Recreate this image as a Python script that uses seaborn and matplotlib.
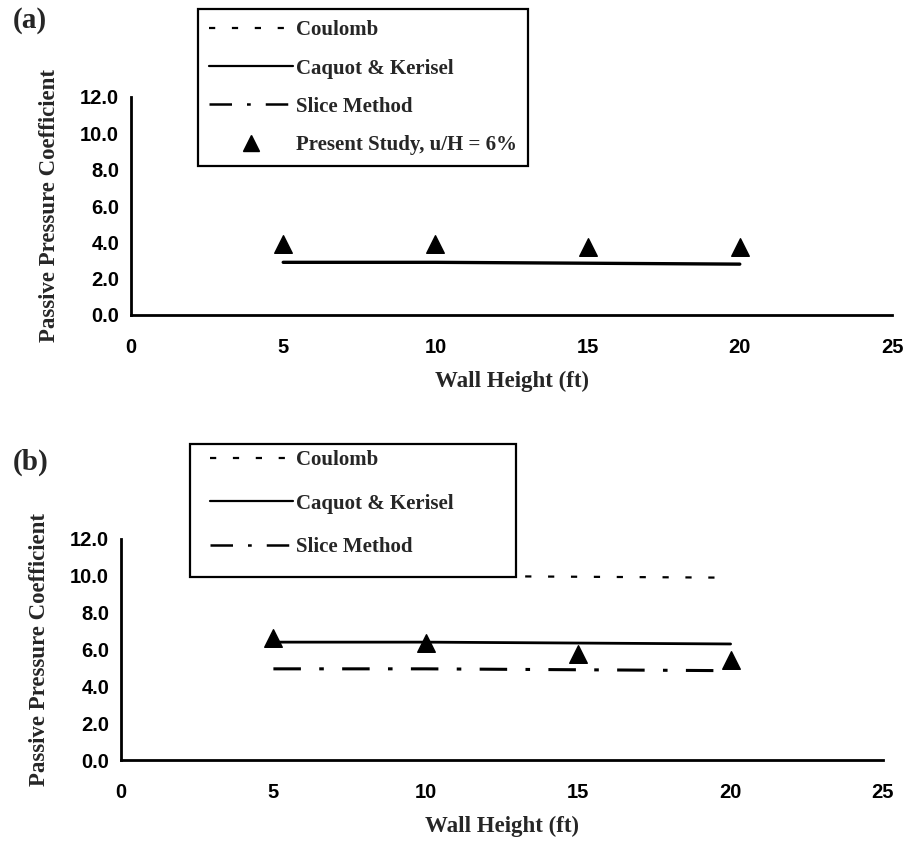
import matplotlib
matplotlib.use("Agg")
import matplotlib.pyplot as plt
from matplotlib.lines import Line2D
from matplotlib.patches import Rectangle
import seaborn as sns
import pandas as pd

# data
heights = [5, 10, 15, 20]
a_caquot = [2.9, 2.9, 2.85, 2.8]
a_present = [3.9, 3.9, 3.75, 3.75]
b_coulomb = [10.0, 10.0, 9.95, 9.9]
b_caquot = [6.4, 6.4, 6.35, 6.3]
b_slice = [4.95, 4.95, 4.9, 4.85]
b_present = [6.65, 6.35, 5.78, 5.42]

x_ticks = [0, 5, 10, 15, 20, 25]
y_ticks = [0, 2, 4, 6, 8, 10, 12]
legend_labels = ['Coulomb', 'Caquot & Kerisel', 'Slice Method', 'Present Study, u/H = 6%']

sns.set_style("white")
plt.rcParams['font.family'] = ['Liberation Serif', 'DejaVu Serif']

SERIF = 'Liberation Serif'
SANS = 'Liberation Sans'
DOT = (0, (2.8, 7.5))
DASHDOT = (0, (9, 6, 1.5, 6))
W, H = 908, 848


def style_axes(ax):
    ax.set_xlim(0, 25)
    ax.set_ylim(0, 12)
    ax.set_xticks(x_ticks)
    ax.set_yticks(y_ticks)
    ax.set_yticklabels([f"{v:.1f}" for v in y_ticks])
    for s in ['top', 'right']:
        ax.spines[s].set_visible(False)
    for s in ['left', 'bottom']:
        ax.spines[s].set_linewidth(2)
        ax.spines[s].set_color('black')
    ax.tick_params(axis='both', direction='inout', length=11, width=1.6, colors='black')
    ax.tick_params(axis='y', pad=3)
    ax.tick_params(axis='x', pad=11)
    for lab in ax.get_xticklabels() + ax.get_yticklabels():
        lab.set_fontfamily(SANS)
        lab.set_fontweight('bold')
        lab.set_fontsize(14.5)
    ax.set_xlabel('Wall Height (ft)', fontsize=16.5, fontweight='bold', fontfamily=SERIF)
    ax.set_ylabel('Passive Pressure Coefficient', fontsize=16.5, fontweight='bold', fontfamily=SERIF)


def legend_handles():
    return [
        Line2D([], [], color='black', linestyle=DOT, linewidth=1.6),
        Line2D([], [], color='black', linestyle='-', linewidth=1.6),
        Line2D([], [], color='black', linestyle=DASHDOT, linewidth=1.8),
        Line2D([], [], color='black', linestyle='none', marker='^', markersize=11),
    ]


fig = plt.figure(figsize=(W / 100, H / 100), dpi=100)

# ---- panel (a)
ax_a = fig.add_axes([131 / W, 1 - 315 / H, 761 / W, 218 / H])
df_a = pd.DataFrame({'h': heights, 'caquot': a_caquot, 'present': a_present})
sns.lineplot(data=df_a, x='h', y='caquot', ax=ax_a, color='black', linewidth=2.4)
sns.scatterplot(data=df_a, x='h', y='present', ax=ax_a, color='black', marker='^', s=160, edgecolor='black')
style_axes(ax_a)
ax_a.xaxis.set_label_coords(0.5, -0.257)
ax_a.yaxis.set_label_coords(-0.093, 0.5)

leg_a = ax_a.legend(legend_handles(), legend_labels, loc='upper left',
                    bbox_to_anchor=(198 / W, 1 - 9 / H), bbox_transform=fig.transFigure,
                    frameon=True, fancybox=False, edgecolor='black', framealpha=1,
                    prop={'family': SERIF, 'weight': 'bold', 'size': 15},
                    handlelength=4.0, handletextpad=0.15, labelspacing=0.87,
                    borderpad=0.55, borderaxespad=0)
leg_a.get_frame().set_linewidth(1.6)

fig.text(13 / W, 1 - 20 / H, '(a)', fontsize=21, fontweight='bold', fontfamily=SERIF,
         ha='left', va='center')

# ---- panel (b)
ax_b = fig.add_axes([121 / W, 1 - 760 / H, 762 / W, 221 / H])
df_b = pd.DataFrame({'h': heights, 'coulomb': b_coulomb, 'caquot': b_caquot,
                     'slice': b_slice, 'present': b_present})
sns.lineplot(data=df_b, x='h', y='coulomb', ax=ax_b, color='black', linewidth=1.6, linestyle=DOT)
sns.lineplot(data=df_b, x='h', y='caquot', ax=ax_b, color='black', linewidth=2.0)
sns.lineplot(data=df_b, x='h', y='slice', ax=ax_b, color='black', linewidth=2.2, linestyle=DASHDOT)
sns.scatterplot(data=df_b, x='h', y='present', ax=ax_b, color='black', marker='^', s=160,
                edgecolor='black', zorder=5)
style_axes(ax_b)
ax_b.xaxis.set_label_coords(0.5, -0.253)
ax_b.yaxis.set_label_coords(-0.093, 0.5)

# legend box of panel (b) is wider than its text and hides the Coulomb line
box_b = Rectangle((190 / W, 1 - 577 / H), 326 / W, 133 / H, transform=fig.transFigure,
                  facecolor='white', edgecolor='black', linewidth=1.6, clip_on=False, zorder=6)
ax_b.add_patch(box_b)
leg_b = ax_b.legend(legend_handles()[:3], legend_labels[:3], loc='upper left',
                    bbox_to_anchor=(201 / W, 1 - 441 / H), bbox_transform=fig.transFigure,
                    frameon=False,
                    prop={'family': SERIF, 'weight': 'bold', 'size': 15},
                    handlelength=4.0, handletextpad=0.15, labelspacing=1.13,
                    borderpad=0.43, borderaxespad=0)
leg_b.set_zorder(10)

fig.text(13 / W, 1 - 462 / H, '(b)', fontsize=21, fontweight='bold', fontfamily=SERIF,
         ha='left', va='center')

fig.savefig('out.png', dpi=100, facecolor='white')
